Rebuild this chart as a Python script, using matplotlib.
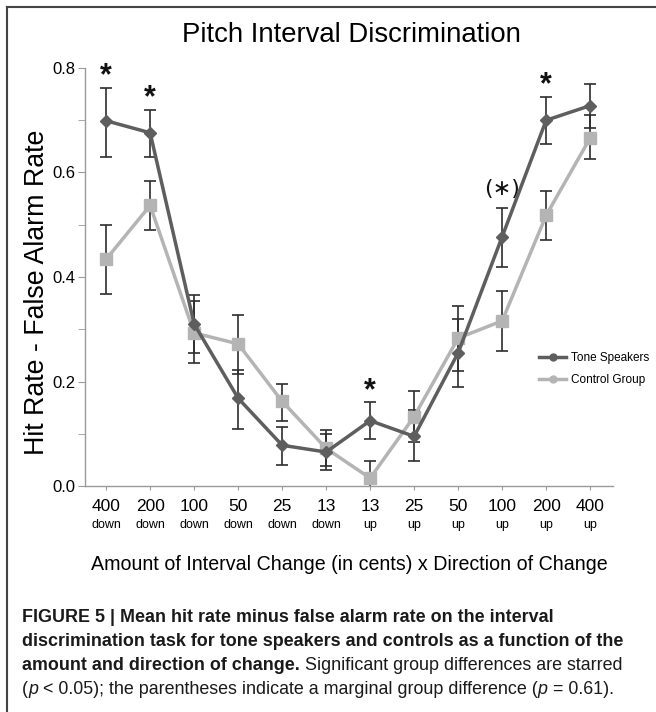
"""
Pitch interval discrimination: hit rate minus false alarm rate for tone
speakers vs controls, by amount and direction of interval change.
"""

import matplotlib
matplotlib.use("Agg")
import matplotlib.pyplot as plt
from matplotlib.lines import Line2D
import numpy as np

# ---------------------------------------------------------------------------
# Data
# ---------------------------------------------------------------------------
amounts = ["400", "200", "100", "50", "25", "13", "13", "25", "50", "100", "200", "400"]
directions = ["down"] * 6 + ["up"] * 6

tone_mean = [0.699, 0.676, 0.310, 0.168, 0.078, 0.065, 0.125, 0.095, 0.255, 0.477, 0.700, 0.728]
tone_lo = [0.630, 0.630, 0.255, 0.110, 0.040, 0.030, 0.090, 0.048, 0.190, 0.420, 0.655, 0.685]
tone_hi = [0.762, 0.720, 0.365, 0.222, 0.112, 0.100, 0.160, 0.145, 0.320, 0.533, 0.745, 0.770]

ctrl_mean = [0.434, 0.537, 0.293, 0.272, 0.162, 0.072, 0.015, 0.133, 0.283, 0.316, 0.518, 0.666]
ctrl_lo = [0.368, 0.490, 0.235, 0.215, 0.125, 0.038, -0.012, 0.085, 0.220, 0.258, 0.470, 0.625]
ctrl_hi = [0.500, 0.583, 0.355, 0.328, 0.195, 0.108, 0.048, 0.182, 0.345, 0.373, 0.564, 0.710]

# significance markers: category index -> label
star_idx = [0, 1, 6, 9, 10]
star_lbl = ["*", "*", "*", "(\u2217)", "*"]

TONE_COLOR = "#5e5e5e"
CTRL_COLOR = "#b4b4b4"
ERR_COLOR = "#2e2e2e"
AXIS_COLOR = "#9a9a9a"

plt.rcParams["font.family"] = ["Liberation Sans", "DejaVu Sans"]


def draw_pieces(fig, x, y, pieces, size):
    """Write a line of text made of (string, weight, style) pieces, left to right."""
    renderer = fig.canvas.get_renderer()
    inv = fig.transFigure.inverted()
    for s, weight, style in pieces:
        t = fig.text(x, y, s, fontsize=size, fontweight=weight, fontstyle=style,
                     ha="left", va="baseline", color="#1a1a1a")
        bb = t.get_window_extent(renderer=renderer)
        x = inv.transform((bb.x1, bb.y0))[0]


def main() -> None:
    fig = plt.figure(figsize=(6.56, 7.12), dpi=100)
    ax = fig.add_axes([0.1296, 0.3174, 0.8049, 0.5871])

    x = np.arange(len(amounts))
    tone_mean_a = np.array(tone_mean)
    ctrl_mean_a = np.array(ctrl_mean)
    tone_err = [tone_mean_a - np.array(tone_lo), np.array(tone_hi) - tone_mean_a]
    ctrl_err = [ctrl_mean_a - np.array(ctrl_lo), np.array(ctrl_hi) - ctrl_mean_a]

    # error bars first (drawn in near-black), then the series on top
    ax.errorbar(x, ctrl_mean_a, yerr=ctrl_err, fmt="none", ecolor=ERR_COLOR,
                elinewidth=1.2, capsize=4, capthick=1.2, zorder=2)
    ax.errorbar(x, tone_mean_a, yerr=tone_err, fmt="none", ecolor=ERR_COLOR,
                elinewidth=1.2, capsize=4, capthick=1.2, zorder=2)
    ax.plot(x, ctrl_mean_a, "-s", color=CTRL_COLOR, lw=2.5, ms=9, zorder=3)
    ax.plot(x, tone_mean_a, "-D", color=TONE_COLOR, lw=2.5, ms=6, zorder=4)

    for i, lbl in zip(star_idx, star_lbl):
        top = max(tone_hi[i], ctrl_hi[i])
        if lbl == "*":
            ax.text(x[i], top + 0.022, lbl, ha="center", va="center",
                    fontsize=22, fontweight="bold", color="#111111")
        else:
            ax.text(x[i], top + 0.036, lbl, ha="center", va="center",
                    fontsize=16, color="#111111", family=["DejaVu Sans"])

    ax.set_xlim(-0.48, 11.52)
    ax.set_ylim(0.0, 0.8)
    ax.set_yticks(np.arange(0, 0.81, 0.2))
    ax.set_yticks(np.arange(0, 0.81, 0.1), minor=True)
    ax.set_yticklabels([f"{v:.1f}" for v in np.arange(0, 0.81, 0.2)], fontsize=12)
    ax.set_xticks(x)
    ax.set_xticklabels(amounts, fontsize=12.5)
    ax.tick_params(axis="x", length=3, color=AXIS_COLOR, pad=6)
    ax.tick_params(axis="y", which="both", length=5, color=AXIS_COLOR, pad=2)
    for d, xi in zip(directions, x):
        ax.text(xi, -0.078, d, transform=ax.get_xaxis_transform(),
                ha="center", va="top", fontsize=9)

    for side in ("top", "right"):
        ax.spines[side].set_visible(False)
    for side in ("left", "bottom"):
        ax.spines[side].set_color(AXIS_COLOR)
        ax.spines[side].set_linewidth(1.0)

    ax.set_ylabel("Hit Rate - False Alarm Rate", fontsize=19.3, va="center")
    ax.yaxis.set_label_coords(-0.091, 0.464)
    ax.set_xlabel("Amount of Interval Change (in cents) x Direction of Change",
                  fontsize=14.1, labelpad=30)
    fig.text(0.535, 0.951, "Pitch Interval Discrimination", ha="center",
             va="center", fontsize=19.8)

    handles = [
        Line2D([], [], color=TONE_COLOR, lw=2.5, marker="o", ms=5),
        Line2D([], [], color=CTRL_COLOR, lw=2.5, marker="o", ms=5),
    ]
    ax.legend(handles, ["Tone Speakers", "Control Group"], loc="upper left",
              bbox_to_anchor=(0.84, 0.345), frameon=False, fontsize=8.5,
              handlelength=2.3, handletextpad=0.4, labelspacing=0.8)

    # figure frame: top and left rules only
    fig.add_artist(Line2D([7 / 656, 1.0], [1 - 7 / 712, 1 - 7 / 712],
                          transform=fig.transFigure, color="#444444", lw=1.5))
    fig.add_artist(Line2D([7 / 656, 7 / 656], [0.0, 1 - 7 / 712],
                          transform=fig.transFigure, color="#444444", lw=1.5))

    # caption
    size = 12.9
    x0 = 22 / 656
    ys = [1 - 622 / 712, 1 - 646 / 712, 1 - 670 / 712, 1 - 694 / 712]
    draw_pieces(fig, x0, ys[0], [
        ("FIGURE 5 | Mean hit rate minus false alarm rate on the interval", "bold", "normal")], size)
    draw_pieces(fig, x0, ys[1], [
        ("discrimination task for tone speakers and controls as a function of the", "bold", "normal")], size)
    draw_pieces(fig, x0, ys[2], [
        ("amount and direction of change.", "bold", "normal"),
        (" Significant group differences are starred", "normal", "normal")], size)
    draw_pieces(fig, x0, ys[3], [
        ("(", "normal", "normal"), ("p", "normal", "italic"),
        (" < 0.05); the parentheses indicate a marginal group difference (", "normal", "normal"),
        ("p", "normal", "italic"), (" = 0.61).", "normal", "normal")], size)

    fig.savefig("out.png", dpi=100)
    plt.close(fig)


if __name__ == "__main__":
    main()
